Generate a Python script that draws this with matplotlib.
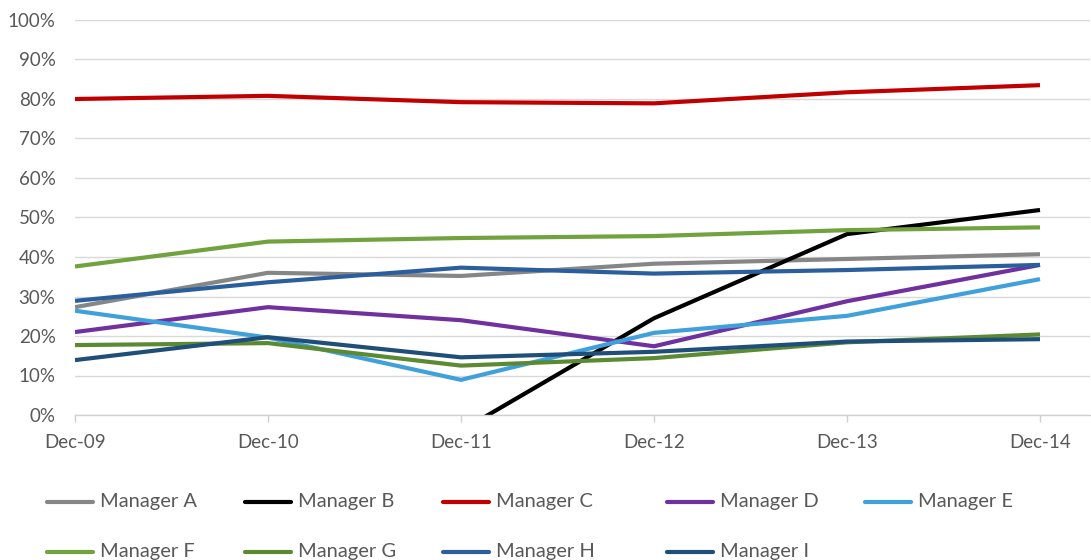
import numpy as np
import matplotlib
matplotlib.use("Agg")
import matplotlib.pyplot as plt
from matplotlib.lines import Line2D

categories = ["Dec-09", "Dec-10", "Dec-11", "Dec-12", "Dec-13", "Dec-14"]
managers = ["Manager A", "Manager B", "Manager C", "Manager D", "Manager E",
            "Manager F", "Manager G", "Manager H", "Manager I"]

manager_a = [27.3, 36.0, 35.2, 38.3, 39.5, 40.7]
manager_b = [np.nan, np.nan, -4.0, 24.5, 45.8, 51.9]
manager_c = [80.0, 80.8, 79.2, 78.9, 81.7, 83.5]
manager_d = [21.0, 27.3, 24.0, 17.4, 28.8, 38.0]
manager_e = [26.4, 19.6, 8.9, 20.8, 25.1, 34.4]
manager_f = [37.6, 43.9, 44.8, 45.3, 46.8, 47.5]
manager_g = [17.7, 18.2, 12.5, 14.4, 18.4, 20.4]
manager_h = [28.9, 33.6, 37.3, 35.8, 36.7, 38.0]
manager_i = [13.9, 19.7, 14.6, 16.0, 18.6, 19.2]

series = [manager_a, manager_b, manager_c, manager_d, manager_e,
          manager_f, manager_g, manager_h, manager_i]
colors = ["#868686", "#000000", "#C00000", "#7030A0", "#3FA0DC",
          "#70A23E", "#5B8A33", "#2A5E9C", "#1F4E79"]

plt.rcParams['font.family'] = ['Lato', 'DejaVu Sans']
text_color = "#595959"

W, H = 1091, 560
fig = plt.figure(figsize=(W / 100, H / 100), dpi=100)
ax = fig.add_axes([75 / W, 145 / H, (1090 - 75) / W, (415 - 20) / H])

x = np.arange(len(categories))
for vals, c in zip(series, colors):
    ax.plot(x, vals, color=c, lw=3.0, solid_joinstyle='round',
            solid_capstyle='butt', clip_on=True)

ax.set_ylim(0, 100)
ax.set_xlim(0, (1090 - 75) / 193.0)
ax.set_yticks(np.arange(0, 101, 10))
ax.set_yticklabels([f"{v}%" for v in range(0, 101, 10)])
ax.set_xticks(x)
ax.set_xticklabels(categories)

ax.grid(axis='y', color='#D9D9D9', lw=1.0)
ax.set_axisbelow(True)
for s in ['top', 'right', 'left']:
    ax.spines[s].set_visible(False)
ax.spines['bottom'].set_color('#D0D0D0')
ax.spines['bottom'].set_linewidth(1.0)
ax.tick_params(axis='y', length=0, pad=14, labelsize=13.5, labelcolor=text_color)
ax.tick_params(axis='x', length=5, width=1, color='#D0D0D0', pad=9,
               labelsize=13.5, labelcolor=text_color)

# legend (manual placement, two rows of five columns)
col_x = [47, 245, 443, 667, 865]
row_y = [502, 552]
for i, (name, c) in enumerate(zip(managers, colors)):
    r, k = divmod(i, 5)
    x0 = col_x[k]
    y0 = row_y[r]
    fig.add_artist(Line2D([x0 / W, (x0 + 46) / W], [1 - y0 / H, 1 - y0 / H],
                          color=c, lw=3.0, solid_capstyle='round',
                          transform=fig.transFigure))
    fig.text((x0 + 53) / W, 1 - y0 / H, name, color=text_color, fontsize=14.5,
             va='center', ha='left')

fig.savefig("out.png", dpi=100)
